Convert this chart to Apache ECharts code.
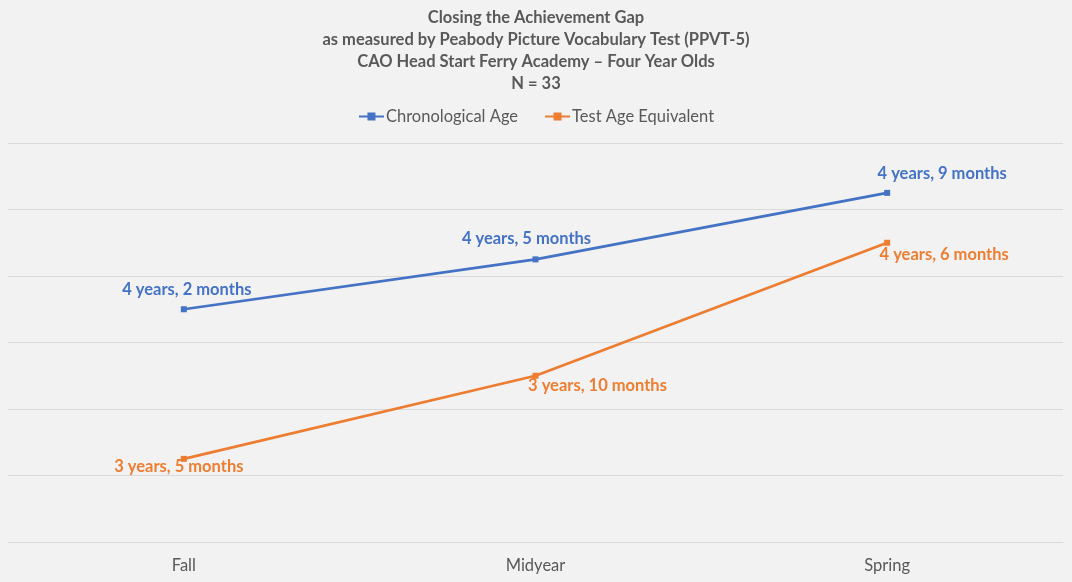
<!DOCTYPE html>
<html>
<head>
<meta charset="utf-8">
<script src="https://cdn.jsdelivr.net/npm/echarts@6/dist/echarts.min.js"></script>
<style>
html,body{margin:0;padding:0;background:#f2f2f2;}
#c{width:1072px;height:582px;}
</style>
</head>
<body>
<div id="c"></div>
<script>
const categories = ['Fall', 'Midyear', 'Spring'];
// ages in months
const chronologicalAge = [50, 53, 57];
const testAgeEquivalent = [41, 46, 54];
const chronoLabels = ['4 years, 2 months', '4 years, 5 months', '4 years, 9 months'];
const testLabels = ['3 years, 5 months', '3 years, 10 months', '4 years, 6 months'];
const chronoOffsets = [[3, -20], [-9, -21], [55, -19]];
const testOffsets = [[-5, 8], [62, 10], [57, 12]];
const titleLines = [
  'Closing the Achievement Gap',
  'as measured by Peabody Picture Vocabulary Test (PPVT-5)',
  'CAO Head Start Ferry Academy \u2013 Four Year Olds',
  'N = 33'
];

const FONT = 'Lato, Carlito, "Open Sans", sans-serif';
function pts(vals, labels, offs, color) {
  return vals.map((v, i) => ({
    value: v,
    label: {
      show: true, position: 'inside', offset: offs[i],
      formatter: labels[i], color: color, fontWeight: 'bold',
      fontSize: 16.5, fontFamily: FONT, align: 'center', verticalAlign: 'middle'
    }
  }));
}

const chart = echarts.init(document.getElementById('c'));
chart.setOption({
  backgroundColor: '#f2f2f2',
  animation: false,
  title: {
    text: titleLines.join('\n'),
    left: 'center', top: 2,
    textStyle: { fontFamily: FONT, fontSize: 16.5, fontWeight: 'bold', color: '#595959', lineHeight: 22 }
  },
  legend: {
    top: 103, left: 'center', itemWidth: 25, itemHeight: 10, itemGap: 26,
    textStyle: { fontFamily: FONT, fontSize: 16.5, color: '#595959', padding: [0, 0, 0, -3] },
    data: ['Chronological Age', 'Test Age Equivalent']
  },
  grid: { left: 8, right: 9, top: 143, bottom: 40, containLabel: false },
  xAxis: {
    type: 'category', data: categories, boundaryGap: true,
    axisLine: { show: true, lineStyle: { color: '#d9d9d9', width: 1 } },
    axisTick: { show: false },
    axisLabel: { fontFamily: FONT, fontSize: 16.5, color: '#595959', margin: 15 }
  },
  yAxis: {
    type: 'value', min: 36, max: 60, interval: 4,
    axisLabel: { show: false }, axisLine: { show: false }, axisTick: { show: false },
    splitLine: { lineStyle: { color: '#d9d9d9', width: 1 } }
  },
  series: [
    {
      name: 'Chronological Age', type: 'line',
      data: pts(chronologicalAge, chronoLabels, chronoOffsets, '#4472C4'),
      symbol: 'rect', symbolSize: 6,
      lineStyle: { color: '#4472C4', width: 2.75 },
      itemStyle: { color: '#4472C4' }
    },
    {
      name: 'Test Age Equivalent', type: 'line',
      data: pts(testAgeEquivalent, testLabels, testOffsets, '#ED7D31'),
      symbol: 'rect', symbolSize: 6,
      lineStyle: { color: '#ED7D31', width: 2.75 },
      itemStyle: { color: '#ED7D31' }
    }
  ]
});
</script>
</body>
</html>
